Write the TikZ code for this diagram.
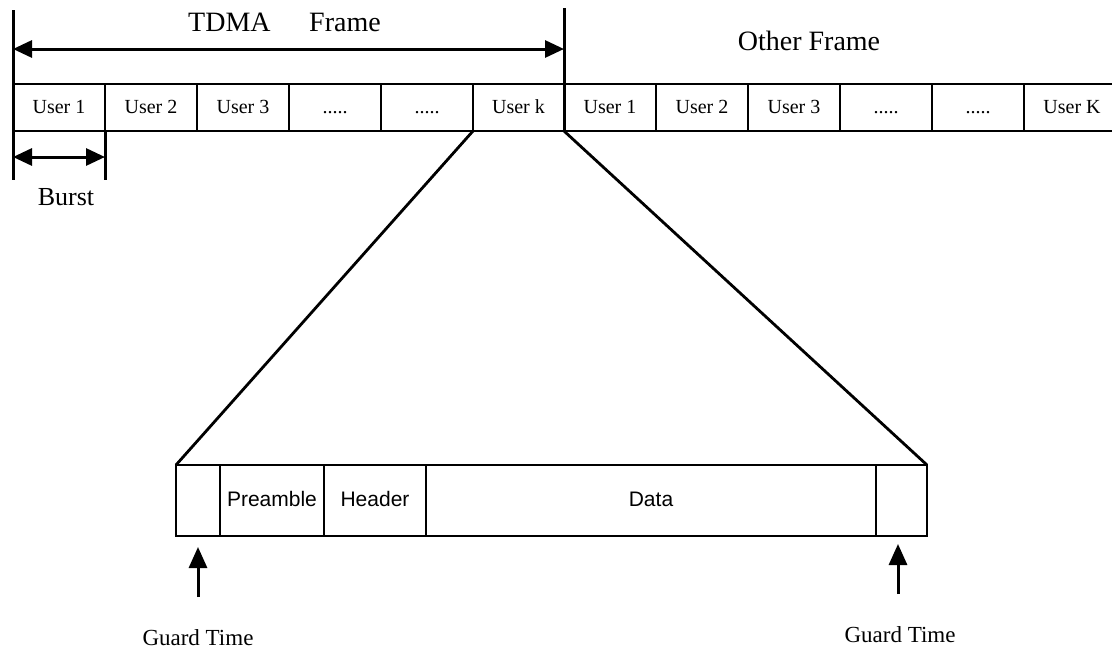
\documentclass[tikz,border=0pt]{standalone}
\usepackage{fontspec}
\setmainfont{Liberation Serif}
\setsansfont{Liberation Sans}
\usetikzlibrary{arrows.meta}
\begin{document}
\begin{tikzpicture}[x=1pt,y=-1pt,
  slot/.style={draw, line width=2.2pt, inner sep=0pt, outer sep=0pt,
    minimum height=47pt, text height=14pt, text depth=2pt,
    font=\fontsize{20}{22}\selectfont},
  part/.style={draw, line width=1.7pt, inner sep=0pt, outer sep=0pt,
    minimum height=71pt, text height=15pt, text depth=3pt,
    font=\sffamily\fontsize{21}{23}\selectfont},
  frameline/.style={line width=3pt},
  link/.style={line width=2.8pt},
  dim/.style={line width=3pt, {Triangle[length=19pt,width=17pt]}-{Triangle[length=19pt,width=17pt]}},
  pointer/.style={line width=3pt, -{Triangle[length=21pt,width=18pt]}},
  title/.style={font=\fontsize{28}{30}\selectfont, inner sep=0pt},
  guard/.style={font=\fontsize{23}{25}\selectfont, inner sep=0pt, anchor=base}]
\useasboundingbox (0,0) rectangle (1112,648);

% TDMA frame slots
\node[slot, minimum width=92pt] (u1) at (59,107.5) {User 1};
\node[slot, minimum width=92pt] (u2) at (151,107.5) {User 2};
\node[slot, minimum width=92pt] (u3) at (243,107.5) {User 3};
\node[slot, minimum width=92pt] (u4) at (335,107.5) {.....};
\node[slot, minimum width=92pt] (u5) at (427,107.5) {.....};
\node[slot, minimum width=91pt] (uk) at (518.5,107.5) {User k};

% following frame slots
\node[slot, minimum width=92pt] (v1) at (610,107.5) {User 1};
\node[slot, minimum width=92pt] (v2) at (702,107.5) {User 2};
\node[slot, minimum width=92pt] (v3) at (794,107.5) {User 3};
\node[slot, minimum width=92pt] (v4) at (886,107.5) {.....};
\node[slot, minimum width=92pt] (v5) at (978,107.5) {.....};
\node[slot, minimum width=96pt] (vk) at (1072,107.5) {User K};

% frame boundaries
\coordinate (fa) at (13,10);
\coordinate (fb) at (13,180);
\coordinate (fc) at (564,8);
\coordinate (fd) at (105,180);
\draw[frameline] (fa) -- (fb);
\draw[frameline] (fc) -- (uk.south east);
\draw[frameline] (u1.south east) -- (fd);

% frame and burst extents
\coordinate (ta) at (13,49);
\coordinate (tb) at (564,49);
\draw[dim] (ta) -- (tb);
\coordinate (ba) at (13,157);
\coordinate (bb) at (105,157);
\draw[dim] (ba) -- (bb);

\node[title, anchor=base west] (tdma) at (188,31) {TDMA};
\node[title, anchor=base west] (frm) at (309,31) {Frame};
\node[title, anchor=base] (other) at (809,50) {Other Frame};
\node[title, anchor=base, font=\fontsize{26}{28}\selectfont] (burst) at (66,205) {Burst};

% burst structure
\node[part, minimum width=44pt] (g1) at (198,500.5) {};
\node[part, minimum width=104pt] (pre) at (272,500.5) {Preamble};
\node[part, minimum width=102pt] (hdr) at (375,500.5) {Header};
\node[part, minimum width=450pt] (dat) at (651,500.5) {Data};
\node[part, minimum width=51pt] (g2) at (901.5,500.5) {};

% zoom lines
\draw[link] (uk.south west) -- (g1.north west);
\draw[link] (uk.south east) -- (g2.north east);

% guard time markers
\coordinate (ga) at (198,597);
\coordinate (gb) at (198,547);
\coordinate (gc) at (898,594);
\coordinate (gd) at (898,544);
\draw[pointer] (ga) -- (gb);
\draw[pointer] (gc) -- (gd);
\node[guard] (gt1) at (198,645) {Guard Time};
\node[guard] (gt2) at (900,642) {Guard Time};
\end{tikzpicture}
\end{document}
